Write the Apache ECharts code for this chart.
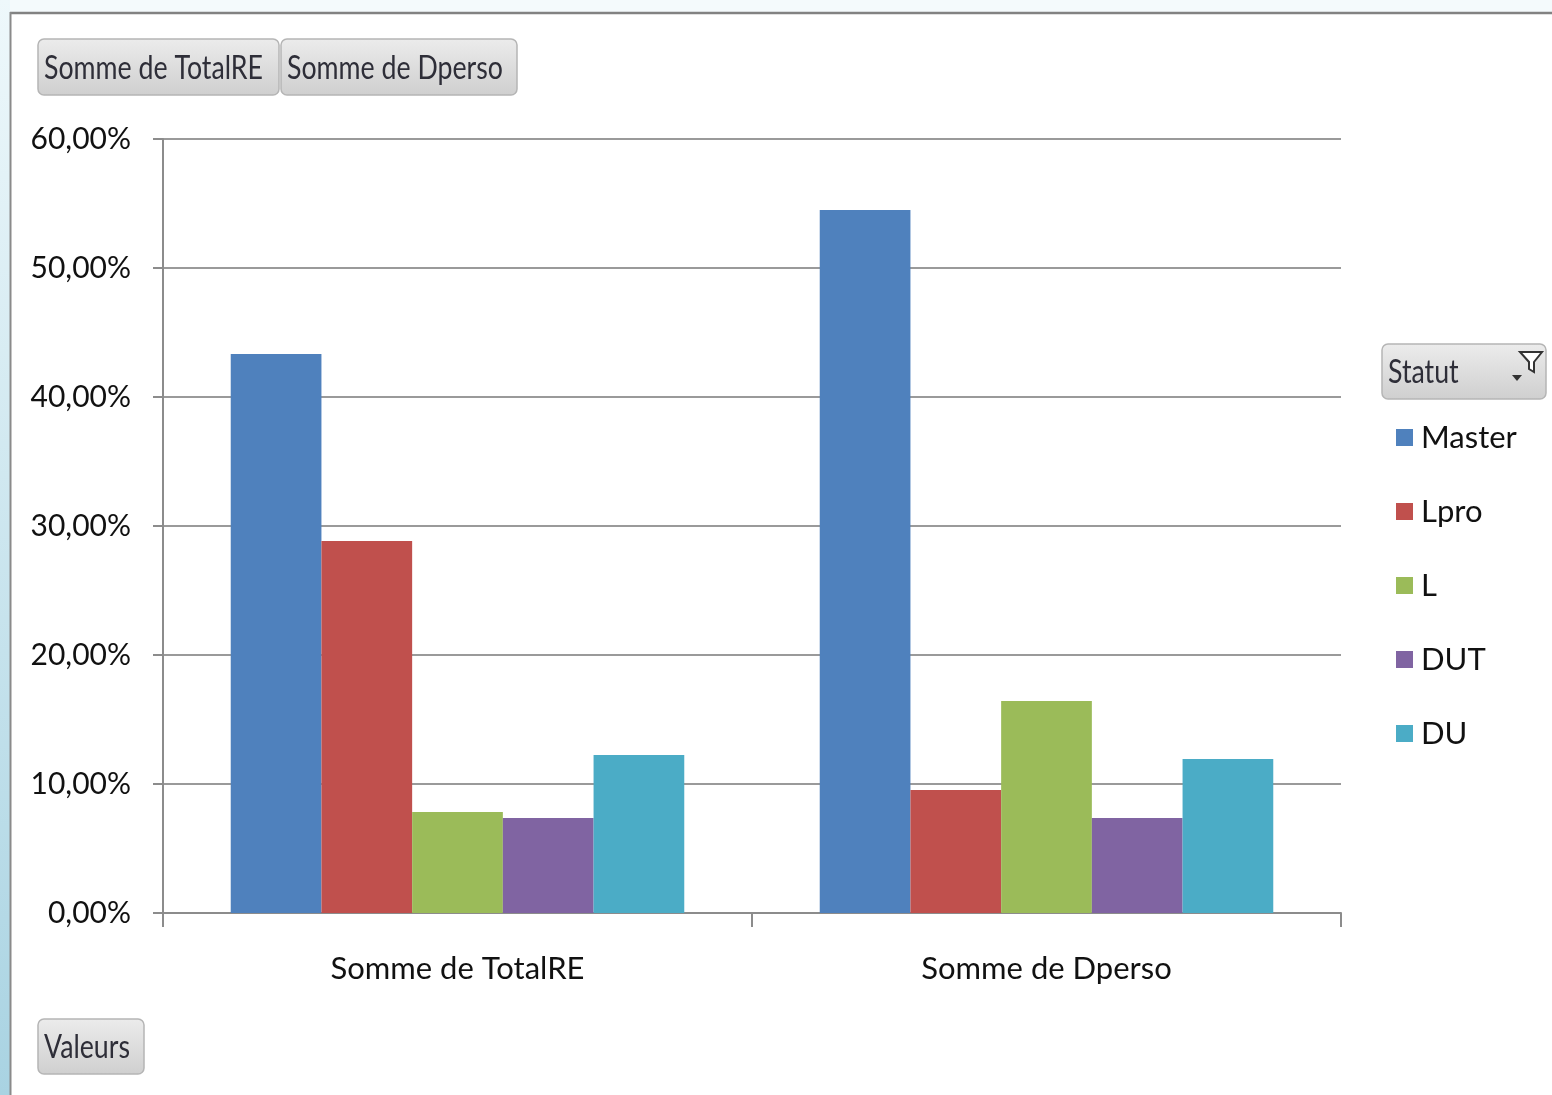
<!DOCTYPE html>
<html>
<head>
<meta charset="utf-8">
<script src="https://cdn.jsdelivr.net/npm/echarts@6/dist/echarts.min.js"></script>
<style>
html,body{margin:0;padding:0;background:#ffffff;}
#chart{width:1552px;height:1095px;}
</style>
</head>
<body>
<div id="chart"></div>
<script>
// ---- data ----
const categories = ['Somme de TotalRE', 'Somme de Dperso'];
const seriesNames = ['Master', 'Lpro', 'L', 'DUT', 'DU'];
const masterValues = [43.33, 54.50];
const lproValues = [28.84, 9.53];
const lValues = [7.83, 16.43];
const dutValues = [7.36, 7.36];
const duValues = [12.25, 11.94];
const yTicks = [0, 10, 20, 30, 40, 50, 60];
const fieldButtons = ['Somme de TotalRE', 'Somme de Dperso'];
const axisButton = 'Valeurs';
const legendTitle = 'Statut';

const colors = ['#4f81bd', '#c0504d', '#9bbb59', '#8064a2', '#4bacc6'];
const allValues = [masterValues, lproValues, lValues, dutValues, duValues];
const FONT = 'Lato';

function button(x, y, w, h, label) {
  return {
    type: 'group', x: x, y: y,
    children: [
      { type: 'rect', shape: { x: 0, y: 0, width: w, height: h, r: 6 },
        style: { fill: new echarts.graphic.LinearGradient(0, 0, 0, 1, [
          { offset: 0, color: '#ececec' }, { offset: 1, color: '#cfcfcf' }]),
          stroke: '#b5b5b5', lineWidth: 1.5 } },
      { type: 'text', x: 6, y: h / 2 + 1, scaleX: 0.81,
        style: { text: label, fontFamily: FONT, fontSize: 33, fill: '#2e2e38',
                 textVerticalAlign: 'middle', verticalAlign: 'middle' } }
    ]
  };
}

const graphics = [
  // outer background strips
  { type: 'rect', shape: { x: 0, y: 0, width: 1552, height: 12 }, style: { fill: '#f4fafc' }, z: -10 },
  { type: 'rect', shape: { x: 0, y: 0, width: 10, height: 1095 },
    style: { fill: new echarts.graphic.LinearGradient(0, 0, 0, 1, [
      { offset: 0, color: '#eef8fb' }, { offset: 1, color: '#a9d3e2' }]) }, z: -10 },
  // frame lines
  { type: 'line', shape: { x1: 10, y1: 13, x2: 1552, y2: 13 }, style: { stroke: '#828282', lineWidth: 2.5 } },
  { type: 'line', shape: { x1: 10.5, y1: 12, x2: 10.5, y2: 1095 }, style: { stroke: '#8a8a8a', lineWidth: 2 } },
  button(38, 39, 241, 56, fieldButtons[0]),
  button(281, 39, 236, 56, fieldButtons[1]),
  button(38, 1019, 106, 55, axisButton),
  button(1382, 344, 164, 55, legendTitle),
  // funnel icon
  { type: 'polygon', shape: { points: [[1520, 352], [1542, 352], [1534, 362], [1534, 372], [1529, 369], [1529, 362]] },
    style: { fill: '#ffffff', stroke: '#333333', lineWidth: 2 } },
  { type: 'polygon', shape: { points: [[1512, 375], [1522, 375], [1517, 381]] },
    style: { fill: '#333333' } }
];

const option = {
  backgroundColor: '#ffffff',
  animation: false,
  color: colors,
  textStyle: { fontFamily: FONT },
  grid: { left: 163, top: 139, right: 211, bottom: 182, containLabel: false },
  legend: {
    orient: 'vertical', left: 1396, top: 422, padding: 0,
    itemWidth: 17, itemHeight: 17, itemGap: 43,
    icon: 'rect',
    textStyle: { fontFamily: FONT, fontSize: 31, color: '#111111', lineHeight: 31, padding: [0, 0, 0, 3] },
    data: seriesNames
  },
  xAxis: {
    type: 'category', data: categories,
    axisLine: { lineStyle: { color: '#8c8c8c', width: 2 } },
    axisTick: { show: true, length: 14, lineStyle: { color: '#8c8c8c', width: 2 } },
    axisLabel: { fontFamily: FONT, fontSize: 31, color: '#111111', margin: 40 },
    splitLine: { show: false }
  },
  yAxis: {
    type: 'value', min: yTicks[0], max: yTicks[yTicks.length - 1], interval: yTicks[1] - yTicks[0],
    axisLine: { show: true, lineStyle: { color: '#8c8c8c', width: 2 } },
    axisTick: { show: true, length: 10, lineStyle: { color: '#8c8c8c', width: 2 } },
    axisLabel: { fontFamily: FONT, fontSize: 30, color: '#111111', margin: 32,
      formatter: v => v.toFixed(2).replace('.', ',') + '%' },
    splitLine: { show: true, lineStyle: { color: '#9a9a9a', width: 2 } }
  },
  series: seriesNames.map((n, i) => ({
    name: n, type: 'bar', data: allValues[i],
    barGap: '0%', barCategoryGap: '23%',
    itemStyle: { color: colors[i] }
  })),
  graphic: graphics
};

const chart = echarts.init(document.getElementById('chart'), null, { renderer: 'canvas' });
chart.setOption(option);
</script>
</body>
</html>
